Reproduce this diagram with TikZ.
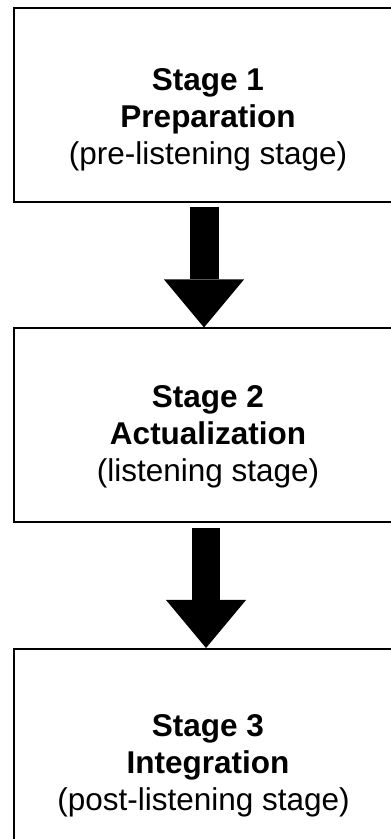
\documentclass[tikz,border=0pt]{standalone}
\usepackage{fontspec}
\setmainfont{Liberation Sans}
\usetikzlibrary{arrows.meta}

\tikzset{
  stagebox/.style={draw, line width=2pt, minimum width=388pt, minimum height=194pt, inner sep=0pt},
  stagetext/.style={align=center, inner sep=0pt, font=\fontsize{31.5}{37}\selectfont},
  bigarrow/.style={line width=29pt, -{Triangle[length=48pt, width=80pt, line width=0pt]}}
}
\newcommand{\stagelabel}[3]{{\bfseries #1}\\{\bfseries #2}\\#3}

\begin{document}
\begin{tikzpicture}[x=1pt, y=1pt]
  \useasboundingbox (0,0) rectangle (391,839);
  \clip (0,0) rectangle (391,839);
  % the three stages
  \node[stagebox] (prep) at (208,733.7) {};
  \node[stagebox] (actual) at (208,413.5) {};
  \node[stagebox] (integ) at (208,93) {};
  \node[stagetext] (prep-text) at ([yshift=-14.5pt]prep.center) {\stagelabel{Stage 1}{Preparation}{(pre-listening stage)}};
  \node[stagetext] (actual-text) at ([yshift=-10.8pt]actual.center) {\stagelabel{Stage 2}{Actualization}{(listening stage)}};
  \node[stagetext] (integ-text) at ([yshift=-19.8pt]integ.center) {\stagelabel{Stage 3}{Integration}{(post-listening stage)\hspace*{9pt}}};
  % arrows between them
  \draw[bigarrow] ([xshift=-4pt,yshift=-4pt]prep.south) -- ([xshift=-4pt]actual.north);
  \draw[bigarrow, line width=28pt] ([xshift=-2pt,yshift=-5pt]actual.south) -- ([xshift=-2pt]integ.north);
\end{tikzpicture}
\end{document}
